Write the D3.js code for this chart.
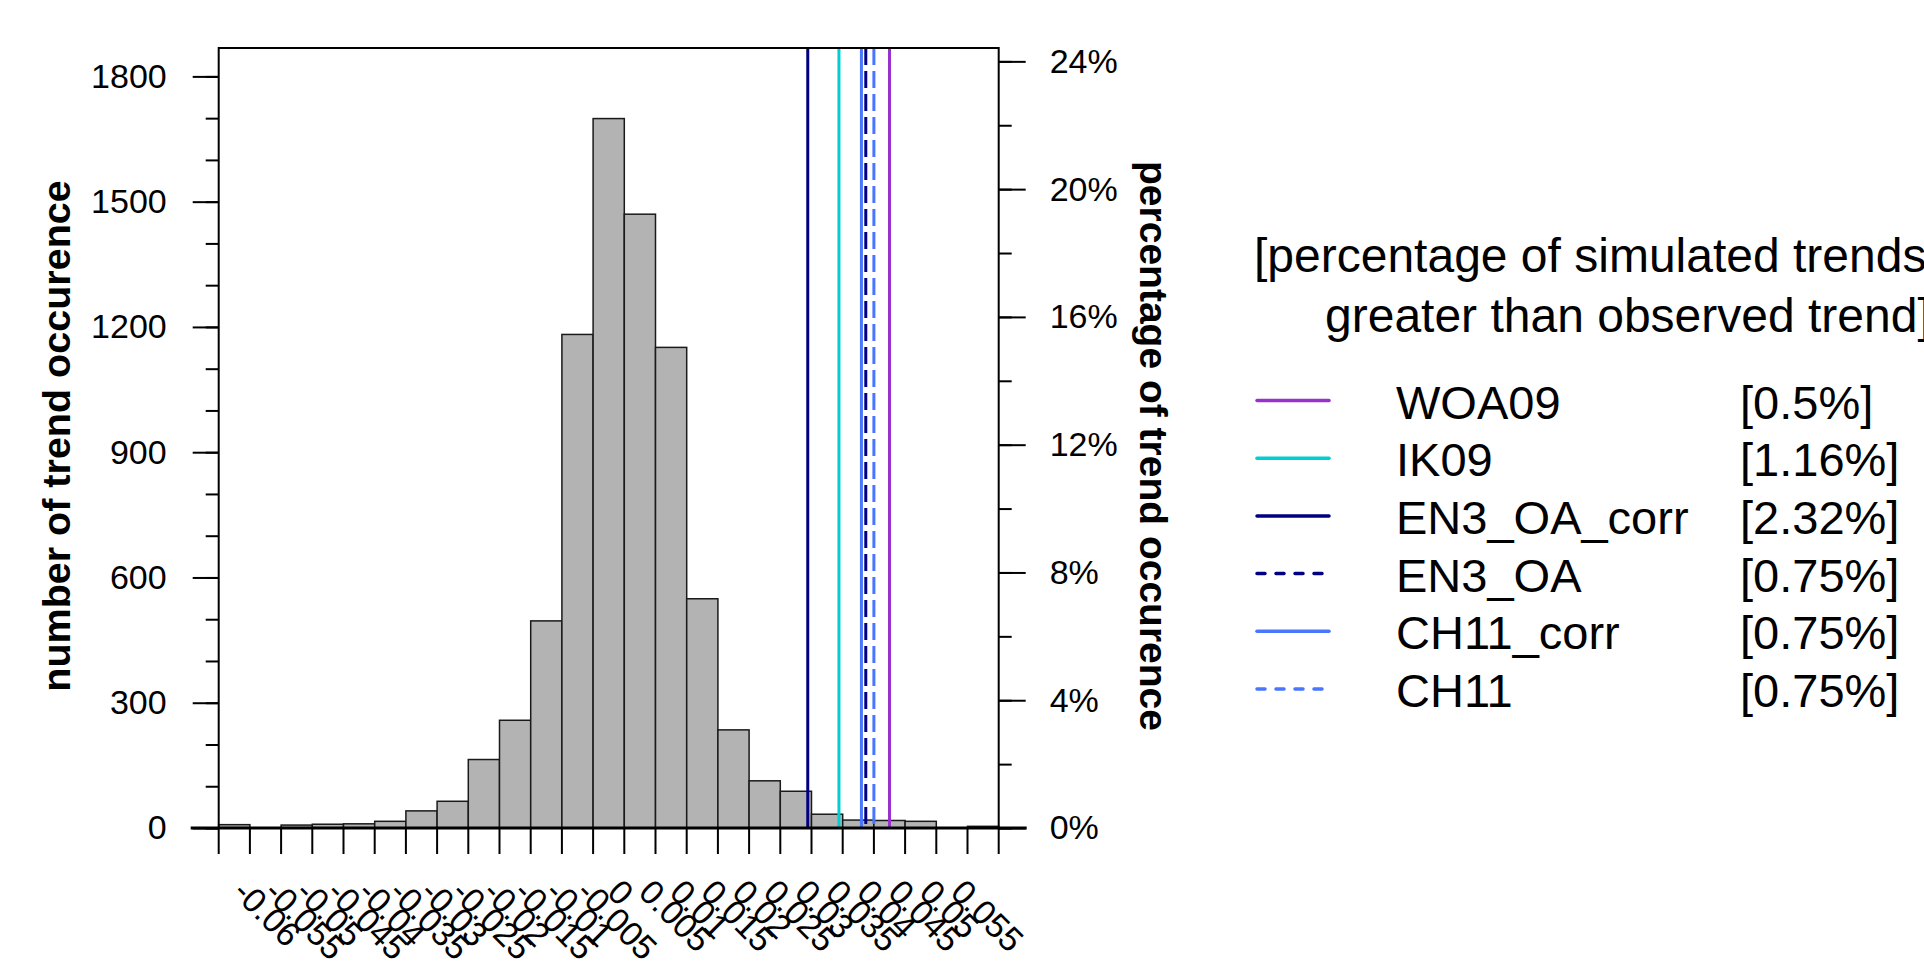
<!DOCTYPE html>
<html>
<head>
<meta charset="utf-8">
<script src="https://cdn.jsdelivr.net/npm/d3@7"></script>
<style>
  body { margin: 0; background: #fff; }
  svg { display: block; font-family: "Liberation Sans", Arial, Helvetica, sans-serif; }
</style>
</head>
<body>
<div id="chart"></div>
<script>
// histogram bin edges (trend values) and counts per bin
const breaks = [-0.0625, -0.0575, -0.0525, -0.0475, -0.0425, -0.0375, -0.0325, -0.0275, -0.0225,
  -0.0175, -0.0125, -0.0075, -0.0025, 0.0025, 0.0075, 0.0125, 0.0175, 0.0225, 0.0275, 0.0325,
  0.0375, 0.0425, 0.0475, 0.0525, 0.0575, 0.0625];
const counts = [8, 0, 7, 9, 10, 16, 41, 64, 164, 258, 496, 1182, 1699, 1470, 1151, 549, 235, 113,
  88, 33, 19, 18, 16, 0, 4];

const xLabels = ["-0.06", "-0.055", "-0.05", "-0.045", "-0.04", "-0.035", "-0.03", "-0.025", "-0.02",
  "-0.015", "-0.01", "-0.005", "0", "0.005", "0.01", "0.015", "0.02", "0.025", "0.03", "0.035",
  "0.04", "0.045", "0.05", "0.055"];
const countTicks = [0, 300, 600, 900, 1200, 1500, 1800];
const pctTicks = [0, 4, 8, 12, 16, 20, 24];

// observed trends
const products = ["WOA09", "IK09", "EN3_OA_corr", "EN3_OA", "CH11_corr", "CH11"];
const observed = [0.0450, 0.0369, 0.0319, 0.0412, 0.0405, 0.0425];
const exceed = ["[0.5%]", "[1.16%]", "[2.32%]", "[0.75%]", "[0.75%]", "[0.75%]"];

const colors = ["#9932CC", "#00CED1", "#000080", "#000080", "#4876FF", "#4876FF"];
const dashed = [false, false, false, true, false, true];

const W = 1924, H = 961;
const plotL = 218.7, plotR = 998.7, plotT = 48, plotB = 828;
const total = d3.sum(counts);

const svg = d3.select("#chart").append("svg")
  .attr("width", W)
  .attr("height", H);

const x = d3.scaleLinear().domain([breaks[0], breaks[breaks.length - 1]]).range([plotL, plotR]);
const y = d3.scaleLinear().domain([0, 1868]).range([plotB, plotT]);
const yPct = d3.scaleLinear().domain([0, 1868 / total * 100]).range([plotB, plotT]);

// bars
svg.append("g").selectAll("rect")
  .data(counts)
  .join("rect")
  .attr("x", (d, i) => x(breaks[i]))
  .attr("width", (d, i) => x(breaks[i + 1]) - x(breaks[i]))
  .attr("y", d => y(d))
  .attr("height", d => y(0) - y(d))
  .attr("fill", "#b3b3b3")
  .attr("stroke", d => d > 0 ? "#1a1a1a" : "none")
  .attr("stroke-width", 1.5);

// observed trend lines (solid first, dashed on top)
const order = [2, 1, 4, 0, 3, 5];
svg.append("g").selectAll("line")
  .data(order)
  .join("line")
  .attr("x1", i => x(observed[i]))
  .attr("x2", i => x(observed[i]))
  .attr("y1", plotT)
  .attr("y2", plotB)
  .attr("stroke", i => colors[i])
  .attr("stroke-width", 3)
  .attr("stroke-dasharray", i => dashed[i] ? "17,6" : null);

// box (top, left, right)
svg.append("path")
  .attr("d", `M${plotL},${plotB}V${plotT}H${plotR}V${plotB}`)
  .attr("fill", "none")
  .attr("stroke", "#000")
  .attr("stroke-width", 2);

// zero line along the bottom
svg.append("line")
  .attr("x1", plotL - 28).attr("x2", plotR + 28)
  .attr("y1", plotB).attr("y2", plotB)
  .attr("stroke", "#000")
  .attr("stroke-width", 3);

// x ticks at bin edges
svg.append("g").selectAll("line")
  .data(breaks)
  .join("line")
  .attr("x1", d => x(d)).attr("x2", d => x(d))
  .attr("y1", plotB).attr("y2", plotB + 26)
  .attr("stroke", "#000")
  .attr("stroke-width", 2);

// rotated x labels at bin centres
svg.append("g").selectAll("text")
  .data(xLabels)
  .join("text")
  .attr("transform", d => `translate(${x(+d) - 3},${plotB + 66}) rotate(45)`)
  .attr("font-size", 34)
  .text(d => d);

// left axis
const styleAxis = g => {
  g.select(".domain").remove();
  g.selectAll("line").attr("stroke", "#000").attr("stroke-width", 2);
  g.selectAll("text").attr("font-size", 34).attr("fill", "#000");
  g.attr("font-family", null).attr("font-size", null);
};
svg.append("g")
  .attr("transform", `translate(${plotL},0)`)
  .call(d3.axisLeft(y).tickValues(countTicks).tickSize(26).tickPadding(26).tickFormat(d3.format("d")))
  .call(styleAxis);
svg.append("g")
  .attr("transform", `translate(${plotL},0)`)
  .call(d3.axisLeft(y).tickValues(d3.range(0, 1801, 100)).tickSize(13).tickFormat(""))
  .call(styleAxis);

// right axis in percent
svg.append("g")
  .attr("transform", `translate(${plotR},0)`)
  .call(d3.axisRight(yPct).tickValues(pctTicks).tickSize(27).tickPadding(24).tickFormat(d => d + "%"))
  .call(styleAxis);
svg.append("g")
  .attr("transform", `translate(${plotR},0)`)
  .call(d3.axisRight(yPct).tickValues(d3.range(0, 25, 2)).tickSize(13).tickFormat(""))
  .call(styleAxis);

// axis titles
svg.append("text")
  .attr("transform", `translate(70,436) rotate(-90)`)
  .attr("text-anchor", "middle")
  .attr("font-size", 39.5)
  .attr("font-weight", "bold")
  .text("number of trend occurence");

svg.append("text")
  .attr("transform", `translate(1140,446) rotate(90)`)
  .attr("text-anchor", "middle")
  .attr("font-size", 39)
  .attr("font-weight", "bold")
  .text("percentage of trend occurence");

// legend
const legend = svg.append("g");
legend.append("text")
  .attr("x", 1254).attr("y", 272)
  .attr("font-size", 48)
  .text("[percentage of simulated trends");
legend.append("text")
  .attr("x", 1325).attr("y", 332)
  .attr("font-size", 48)
  .text("greater than observed trend]");

const rows = legend.selectAll("g.row")
  .data(products)
  .join("g")
  .attr("class", "row")
  .attr("transform", (d, i) => `translate(0,${400.5 + i * 57.7})`);

rows.append("line")
  .attr("x1", 1257).attr("x2", 1329)
  .attr("stroke", (d, i) => colors[i])
  .attr("stroke-width", 3.5)
  .attr("stroke-linecap", "round")
  .attr("stroke-dasharray", (d, i) => dashed[i] ? "8,11" : null);

rows.append("text")
  .attr("x", 1396).attr("y", 18)
  .attr("font-size", 47)
  .text(d => d);

rows.append("text")
  .attr("x", 1740).attr("y", 18)
  .attr("font-size", 47)
  .text((d, i) => exceed[i]);
</script>
</body>
</html>
